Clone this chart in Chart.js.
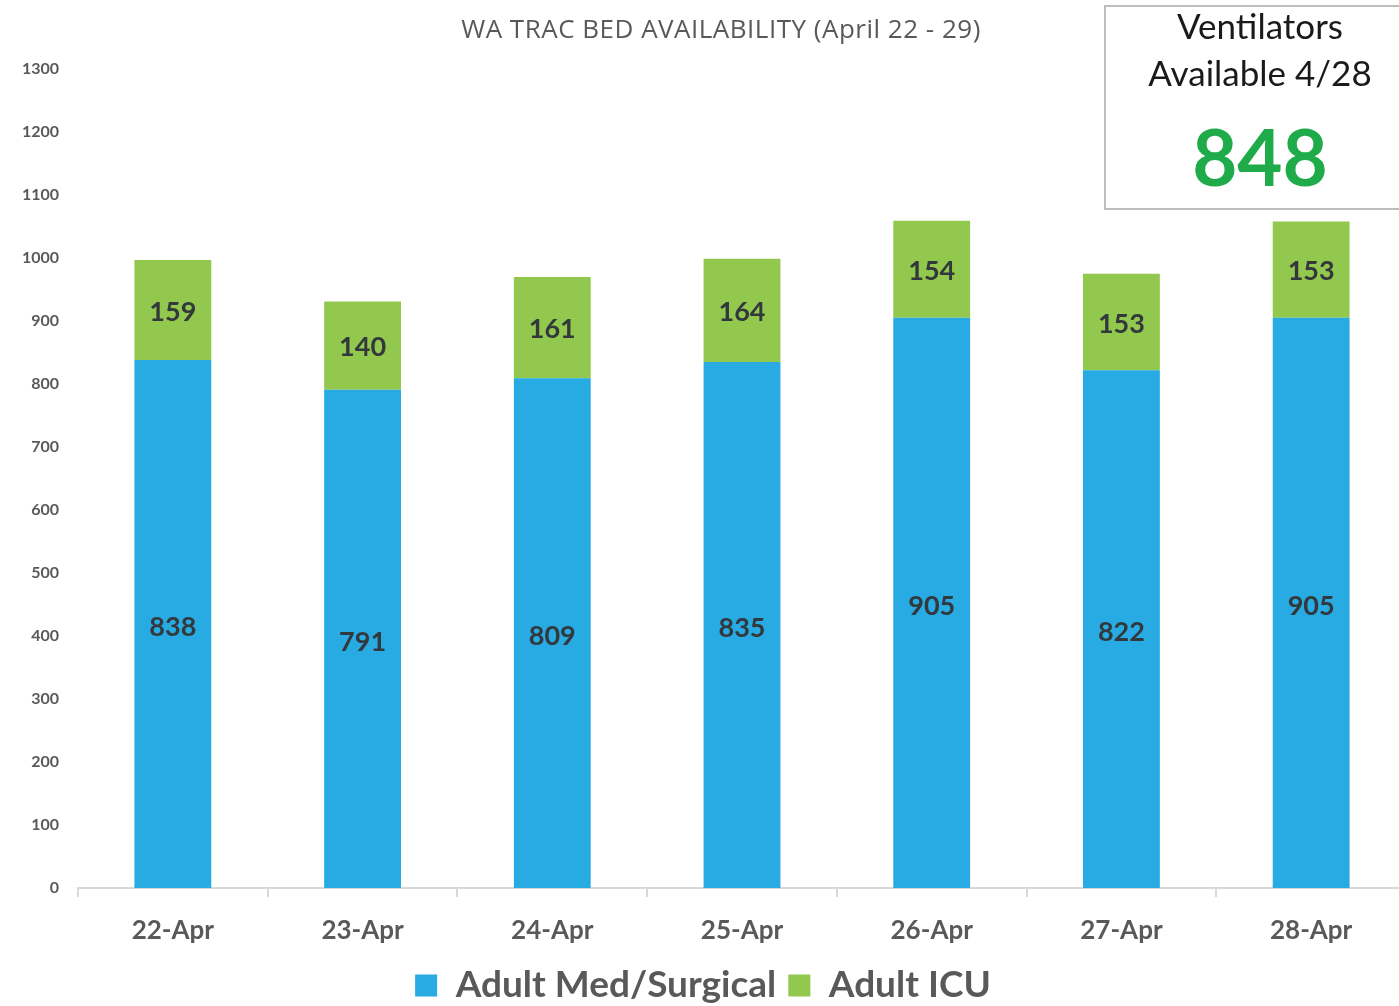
<!DOCTYPE html>
<html>
<head>
<meta charset="utf-8">
<script src="https://cdn.jsdelivr.net/npm/chart.js@4.4.0/dist/chart.umd.min.js"></script>
<style>
  html, body { margin: 0; padding: 0; background: #fff; overflow: hidden; }
  #wrap { position: relative; width: 1406px; height: 1006px; }
  #title {
    position: absolute; left: 0; width: 1442px; top: 10px;
    text-align: center; font-family: 'Open Sans', sans-serif;
    font-size: 26px; letter-spacing: 0.5px; color: #595959;
  }
  #ventBox {
    position: absolute; left: 1104px; top: 5px; width: 310px; height: 201px;
    border: 2px solid #bdbdbd; background: #fff; text-align: center;
    font-family: Lato, sans-serif; color: #1a1a1a;
  }
  #ventBox .line { font-size: 35px; line-height: 47px; padding-right: 2px; }
  #ventBox .big { font-size: 78px; font-weight: bold; color: #1fab4a; line-height: 90px; padding-right: 2px; margin-top: 15px; }
</style>
</head>
<body>
<div id="wrap">
  <canvas id="bedChart" width="1406" height="1006"></canvas>
  <div id="title">WA TRAC BED AVAILABILITY (April 22 - 29)</div>
  <div id="ventBox">
    <div class="line" style="margin-top:-5px">Ventilators</div>
    <div class="line">Available 4/28</div>
    <div class="big">848</div>
  </div>
</div>
<script>
// Data
const dates = ['22-Apr', '23-Apr', '24-Apr', '25-Apr', '26-Apr', '27-Apr', '28-Apr'];
const medSurgical = [838, 791, 809, 835, 905, 822, 905];
const adultICU = [159, 140, 161, 164, 154, 153, 153];
const yTicks = [0, 100, 200, 300, 400, 500, 600, 700, 800, 900, 1000, 1100, 1200, 1300];

/**
 * Draw the value of each bar segment in its middle
 */
const segmentLabels = {
    id: 'segmentLabels',
    afterDatasetsDraw(chart) {
        const ctx = chart.ctx;
        ctx.save();
        ctx.font = 'bold 27px Lato, sans-serif';
        ctx.fillStyle = '#33383c';
        ctx.textAlign = 'center';
        ctx.textBaseline = 'middle';
        chart.data.datasets.forEach((dataset, i) => {
            const meta = chart.getDatasetMeta(i);
            meta.data.forEach((bar, j) => {
                const mid = (bar.y + bar.base) / 2 + (i === 0 ? 3 : 2);
                ctx.fillText(dataset.data[j], bar.x, mid);
            });
        });
        ctx.restore();
    }
};

const ctx = document.getElementById('bedChart').getContext('2d');
new Chart(ctx, {
    type: 'bar',
    data: {
        labels: dates,
        datasets: [{
            label: 'Adult Med/Surgical',
            data: medSurgical,
            backgroundColor: '#27abe2',
            categoryPercentage: 1,
            barPercentage: 0.405
        }, {
            label: 'Adult ICU',
            data: adultICU,
            backgroundColor: '#92c84e',
            categoryPercentage: 1,
            barPercentage: 0.405
        }]
    },
    options: {
        responsive: false,
        animation: false,
        layout: {
            padding: { top: 69, right: 0, left: 0, bottom: -8 }
        },
        scales: {
            x: {
                stacked: true,
                grid: {
                    offset: true,
                    drawOnChartArea: false,
                    color: '#d9d9d9',
                    tickLength: 9,
                    lineWidth: 2
                },
                border: { color: '#d9d9d9', width: 2 },
                ticks: {
                    color: '#595959',
                    padding: 18,
                    font: { family: 'Lato, sans-serif', size: 26, weight: 'bold' }
                },
                afterFit(scale) { scale.height = 67; }
            },
            y: {
                stacked: true,
                min: 0,
                max: 1300,
                afterBuildTicks(scale) {
                    scale.ticks = yTicks.map(v => ({ value: v }));
                },
                grid: { display: false },
                border: { display: false },
                ticks: {
                    color: '#595959',
                    padding: 11,
                    font: { family: 'Lato, sans-serif', size: 16, weight: 'bold' },
                    callback: value => String(value)
                },
                afterFit(scale) { scale.width = 78; }
            }
        },
        plugins: {
            legend: {
                position: 'bottom',
                labels: {
                    color: '#595959',
                    boxWidth: 22,
                    boxHeight: 22,
                    padding: 12,
                    font: { family: 'Lato, sans-serif', size: 37, weight: 'bold' }
                }
            },
            tooltip: { enabled: false }
        }
    },
    plugins: [segmentLabels]
});
</script>
</body>
</html>
